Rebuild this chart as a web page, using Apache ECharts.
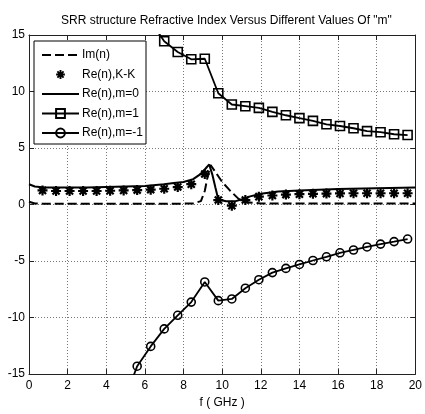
<!DOCTYPE html>
<html>
<head>
<meta charset="utf-8">
<script src="https://cdn.jsdelivr.net/npm/echarts@6/dist/echarts.min.js"></script>
<style>
  html, body { margin: 0; padding: 0; background: #ffffff; }
  #chart { width: 425px; height: 414px; }
</style>
</head>
<body>
<div id="chart"></div>
<script>
// Axis ticks
const xTicks = [0, 2, 4, 6, 8, 10, 12, 14, 16, 18, 20];
const yTicks = [-15, -10, -5, 0, 5, 10, 15];

// Im(n): frequency (GHz) and value
const imF = [0, 0.3, 0.7, 2, 4, 6, 8, 8.5, 8.9, 9.1, 9.25, 9.4, 9.6, 10.0, 10.4, 10.85, 11.2, 12, 14, 16, 18, 20];
const imV = [0.25, 0.1, 0.08, 0.08, 0.08, 0.08, 0.08, 0.1, 0.3, 1.2, 2.5, 3.5, 3.0, 2.0, 1.25, 0.5, 0.2, 0.1, 0.1, 0.1, 0.1, 0.1];

// Re(n) from Kramers-Kronig
const kkF = [0.7, 1.4, 2.1, 2.8, 3.5, 4.2, 4.9, 5.6, 6.3, 7.0, 7.7, 8.4, 9.1, 9.8, 10.5, 11.2, 11.9, 12.6, 13.3, 14.0, 14.7, 15.4, 16.1, 16.8, 17.5, 18.2, 18.9, 19.6];
const kkV = [1.25, 1.2, 1.2, 1.2, 1.2, 1.22, 1.25, 1.28, 1.32, 1.4, 1.55, 1.8, 2.7, 0.4, -0.1, 0.4, 0.7, 0.8, 0.88, 0.92, 0.95, 0.97, 0.98, 1.0, 1.0, 1.0, 1.0, 1.0];

// Re(n), m = 0
const m0F = [0, 0.3, 0.8, 2, 3, 4, 5, 6, 7, 7.5, 8, 8.5, 8.8, 9.0, 9.2, 9.33, 9.5, 9.65, 9.8, 10.2, 10.7, 11.0, 11.4, 12.0, 12.9, 14, 16, 18, 20];
const m0V = [1.8, 1.6, 1.5, 1.5, 1.5, 1.55, 1.6, 1.65, 1.8, 1.9, 2.0, 2.25, 2.6, 2.9, 3.3, 3.55, 2.6, 1.5, 0.45, 0.3, 0.3, 0.45, 0.7, 0.95, 1.15, 1.25, 1.37, 1.45, 1.5];

// Re(n), m = 1
const m1F = [6.3, 7.0, 7.7, 8.4, 9.1, 9.8, 10.5, 11.2, 11.9, 12.6, 13.3, 14.0, 14.7, 15.4, 16.1, 16.8, 17.5, 18.2, 18.9, 19.6];
const m1V = [16.2, 14.45, 13.5, 12.85, 12.9, 9.85, 8.85, 8.7, 8.55, 8.2, 7.9, 7.65, 7.4, 7.1, 6.95, 6.75, 6.5, 6.4, 6.22, 6.15];

// Re(n), m = -1
const mm1F = [4.9, 5.6, 6.3, 7.0, 7.7, 8.4, 9.1, 9.8, 10.5, 11.2, 11.9, 12.6, 13.3, 14.0, 14.7, 15.4, 16.1, 16.8, 17.5, 18.2, 18.9, 19.6];
const mm1V = [-17.5, -14.3, -12.55, -11.0, -9.8, -8.63, -6.85, -8.5, -8.35, -7.4, -6.65, -6.02, -5.65, -5.3, -4.95, -4.62, -4.27, -4.02, -3.75, -3.5, -3.28, -3.05];

const seriesNames = ['Im(n)', 'Re(n),K-K', 'Re(n),m=0', 'Re(n),m=1', 'Re(n),m=-1'];

const pairs = (xs, ys) => xs.map((x, i) => [x, ys[i]]);
const FONT = '"Liberation Sans", Arial, Helvetica, sans-serif';

// heavy eight-armed asterisk marker
const asterisk = 'path://M7.8 0L12.2 0L12.2 20L7.8 20Z' +
  'M0 7.8L20 7.8L20 12.2L0 12.2Z' +
  'M4.51 1.39L18.61 15.49L15.49 18.61L1.39 4.51Z' +
  'M1.39 15.49L15.49 1.39L18.61 4.51L4.51 18.61Z';

const axisLineStyle = { color: '#222', width: 1 };
const gridLineStyle = { color: '#777', width: 1, type: [1, 2] };

const chart = echarts.init(document.getElementById('chart'), null, { renderer: 'canvas' });

chart.setOption({
  backgroundColor: '#ffffff',
  animation: false,
  title: {
    text: 'SRR structure Refractive Index Versus Different Values Of "m"',
    left: 61,
    top: 15,
    padding: 0,
    textStyle: { fontFamily: FONT, fontSize: 12, fontWeight: 'normal', color: '#000' }
  },
  grid: { left: 29, right: 7, top: 35, bottom: 34, containLabel: false },
  legend: {
    orient: 'vertical',
    left: 34,
    top: 41,
    itemWidth: 37,
    itemHeight: 11,
    itemGap: 7.5,
    padding: [8, 3, 5, 7],
    borderColor: '#000',
    borderWidth: 1,
    borderRadius: 0,
    backgroundColor: '#ffffff',
    selectedMode: false,
    textStyle: { fontFamily: FONT, fontSize: 12, color: '#000', padding: [0, 0, 0, -2] },
    data: [
      { name: seriesNames[0], itemStyle: { opacity: 0 } },
      { name: seriesNames[1] },
      { name: seriesNames[2], itemStyle: { opacity: 0 } },
      { name: seriesNames[3] },
      { name: seriesNames[4] }
    ]
  },
  xAxis: [
    {
      type: 'value', min: 0, max: 20, interval: 2, position: 'bottom',
      name: 'f ( GHz )', nameLocation: 'middle', nameGap: 22,
      nameTextStyle: { fontFamily: FONT, fontSize: 12, color: '#000' },
      axisLine: { show: true, onZero: false, lineStyle: axisLineStyle },
      axisTick: { show: true, inside: true, length: 5, lineStyle: axisLineStyle },
      axisLabel: { fontFamily: FONT, fontSize: 12, color: '#000', margin: 6,
        formatter: v => xTicks.includes(v) ? String(v) : '' },
      splitLine: { show: true, lineStyle: gridLineStyle }
    },
    {
      type: 'value', min: 0, max: 20, interval: 2, position: 'top',
      axisLine: { show: true, onZero: false, lineStyle: axisLineStyle },
      axisTick: { show: true, inside: true, length: 5, lineStyle: axisLineStyle },
      axisLabel: { show: false },
      splitLine: { show: false }
    }
  ],
  yAxis: [
    {
      type: 'value', min: -15, max: 15, interval: 5, position: 'left',
      axisLine: { show: true, onZero: false, lineStyle: axisLineStyle },
      axisTick: { show: true, inside: true, length: 5, lineStyle: axisLineStyle },
      axisLabel: { fontFamily: FONT, fontSize: 12, color: '#000', margin: 4,
        formatter: v => yTicks.includes(v) ? String(v) : '' },
      splitLine: { show: true, lineStyle: gridLineStyle }
    },
    {
      type: 'value', min: -15, max: 15, interval: 5, position: 'right',
      axisLine: { show: true, onZero: false, lineStyle: axisLineStyle },
      axisTick: { show: true, inside: true, length: 5, lineStyle: axisLineStyle },
      axisLabel: { show: false },
      splitLine: { show: false }
    }
  ],
  series: [
    {
      name: seriesNames[0], type: 'line', data: pairs(imF, imV),
      symbol: 'none', clip: true,
      lineStyle: { color: '#000', width: 2, type: [9, 4] },
      itemStyle: { color: '#000' }
    },
    {
      name: seriesNames[1], type: 'line', data: pairs(kkF, kkV),
      symbol: asterisk, symbolSize: 10, showSymbol: true, clip: true,
      lineStyle: { width: 0, opacity: 0 },
      itemStyle: { color: '#000' }
    },
    {
      name: seriesNames[2], type: 'line', data: pairs(m0F, m0V),
      symbol: 'none', clip: true,
      lineStyle: { color: '#000', width: 2 },
      itemStyle: { color: '#000' }
    },
    {
      name: seriesNames[3], type: 'line', data: pairs(m1F, m1V),
      symbol: 'rect', symbolSize: 9, showSymbol: true, clip: true,
      lineStyle: { color: '#000', width: 1.8 },
      itemStyle: { color: 'rgba(255,255,255,0)', borderColor: '#000', borderWidth: 1.6 }
    },
    {
      name: seriesNames[4], type: 'line', data: pairs(mm1F, mm1V),
      symbol: 'circle', symbolSize: 8, showSymbol: true, clip: true,
      lineStyle: { color: '#000', width: 1.8 },
      itemStyle: { color: 'rgba(255,255,255,0)', borderColor: '#000', borderWidth: 1.6 }
    }
  ]
});
</script>
</body>
</html>
